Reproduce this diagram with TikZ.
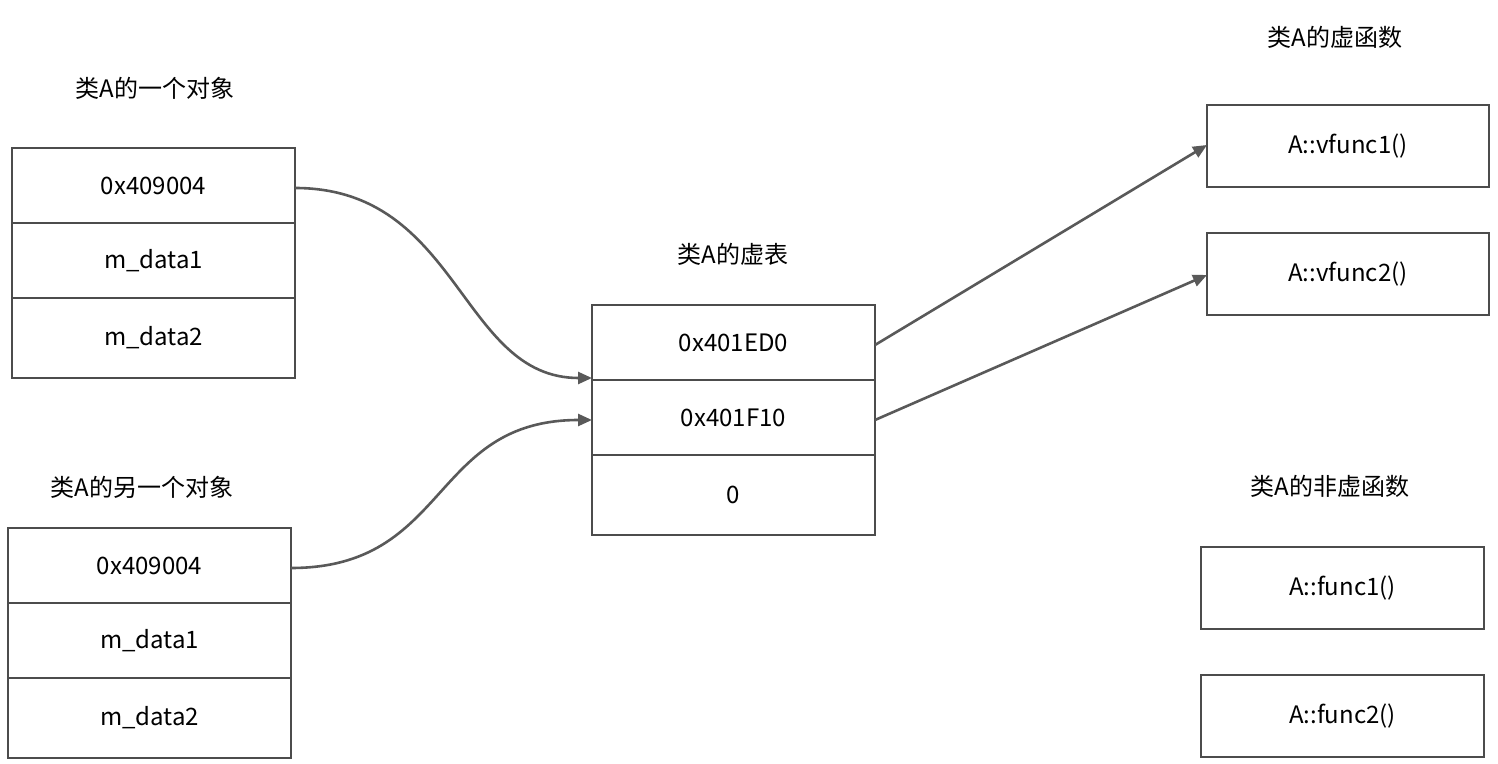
\documentclass[tikz,border=0pt]{standalone}
\usepackage{fontspec}
\setmainfont{Noto Sans CJK SC}
\usetikzlibrary{arrows.meta}
\begin{document}
\begin{tikzpicture}[x=0.5pt,y=-0.5pt,
 cell/.style={draw=black!70,line width=1.3pt,inner sep=0pt},
 lbl/.style={font=\fontsize{12}{14}\selectfont},
 conn/.style={draw=black!65,line width=1.3pt,-{Triangle[length=7pt,width=6pt]}}]
\useasboundingbox (0,0) rectangle (1498,764);
\newcommand{\cellbox}[6]{\draw[cell] (#2,#3) rectangle (#4,#5); \node[lbl] (#1) at ({(#2+#4)/2},{(#3+#5)/2}) {#6};}
\cellbox{o1a}{12}{148}{295}{223}{0x409004}
\cellbox{o1b}{12}{223}{295}{298}{m\_data1}
\cellbox{o1c}{12}{298}{295}{378}{m\_data2}
\cellbox{o2a}{8}{528}{291}{603}{0x409004}
\cellbox{o2b}{8}{603}{291}{678}{m\_data1}
\cellbox{o2c}{8}{678}{291}{758}{m\_data2}
\cellbox{v1}{592}{305}{875}{380}{0x401ED0}
\cellbox{v2}{592}{380}{875}{455}{0x401F10}
\cellbox{v3}{592}{455}{875}{535}{0}
\cellbox{f1}{1207}{105}{1489}{187}{A::vfunc1()}
\cellbox{f2}{1207}{233}{1489}{315}{A::vfunc2()}
\cellbox{n1}{1201}{547}{1484}{629}{A::func1()}
\cellbox{n2}{1201}{675}{1484}{757}{A::func2()}
\node[lbl] (t1) at (155,88) {类A的一个对象};
\node[lbl] (t2) at (142,487) {类A的另一个对象};
\node[lbl] (t3) at (733,254) {类A的虚表};
\node[lbl] (t4) at (1335,37) {类A的虚函数};
\node[lbl] (t5) at (1330,486) {类A的非虚函数};
\coordinate (a1) at (295,188); \coordinate (b1) at (592,378);
\coordinate (a2) at (291,568); \coordinate (b2) at (592,420);
\coordinate (a3) at (875,345); \coordinate (b3) at (1207,145);
\coordinate (a4) at (875,420); \coordinate (b4) at (1207,275);
\draw[conn] (a1) .. controls (460,188) and (460,378) .. (b1);
\draw[conn] (a2) .. controls (450,568) and (430,420) .. (b2);
\draw[conn] (a3) -- (b3);
\draw[conn] (a4) -- (b4);
\end{tikzpicture}
\end{document}
